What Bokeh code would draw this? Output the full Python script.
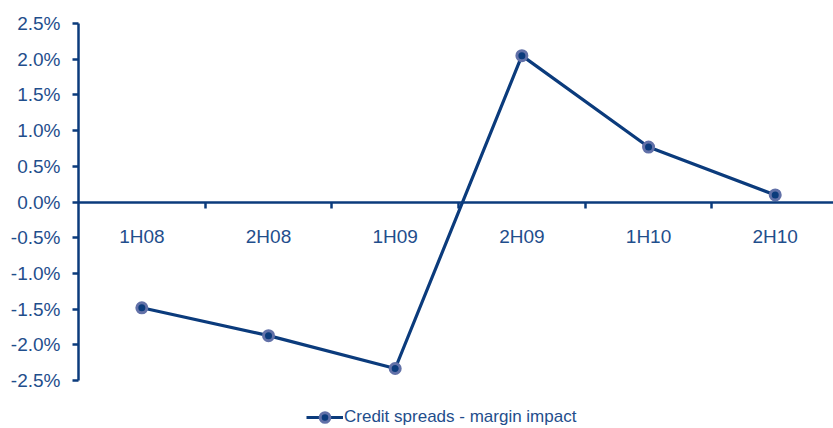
from bokeh.plotting import figure
from bokeh.models import (Range1d, LinearAxis, FixedTicker, PrintfTickFormatter,
                          Legend, LegendItem, ColumnDataSource)
from bokeh.embed import file_html
from bokeh.resources import INLINE

categories = ["1H08", "2H08", "1H09", "2H09", "1H10", "2H10"]
values = [-1.48, -1.87, -2.33, 2.05, 0.77, 0.10]
y_ticks = [-2.5, -2.0, -1.5, -1.0, -0.5, 0.0, 0.5, 1.0, 1.5, 2.0, 2.5]
series_name = "Credit spreads - margin impact"

NAVY = "#0b3b7c"
TEXT = "#1f4e8c"
MARK = "#6271a8"
FONT = "Liberation Sans"

xs = [i + 0.5 for i in range(len(categories))]
src = ColumnDataSource(dict(x=xs, y=values))

p = figure(width=833, height=428, output_backend="svg", toolbar_location=None,
           x_range=Range1d(0, 5.96), y_range=Range1d(-3.17, 2.5),
           x_axis_location=None, y_axis_location=None,
           min_border_top=23, min_border_left=78, min_border_right=0,
           min_border_bottom=0, outline_line_color=None)
p.grid.visible = False

yax = LinearAxis(ticker=FixedTicker(ticks=y_ticks),
                 formatter=PrintfTickFormatter(format="%.1f%%"),
                 bounds=(-2.5, 2.5))
yax.axis_line_color = NAVY
yax.axis_line_width = 2.5
yax.major_tick_line_color = NAVY
yax.major_tick_line_width = 2.5
yax.major_tick_out = 6
yax.major_tick_in = 0
yax.minor_tick_line_color = None
yax.major_label_text_font = FONT
yax.major_label_text_font_size = "19px"
yax.major_label_text_color = TEXT
yax.major_label_standoff = 12
p.add_layout(yax, "left")

xax = LinearAxis(ticker=FixedTicker(ticks=xs, minor_ticks=list(range(1, len(categories)))),
                 major_label_overrides={x: c for x, c in zip(xs, categories)},
                 fixed_location=0)
xax.axis_line_color = NAVY
xax.axis_line_width = 2.5
xax.major_tick_line_color = None
xax.minor_tick_line_color = NAVY
xax.minor_tick_line_width = 2.5
xax.minor_tick_out = 6
xax.minor_tick_in = 0
xax.major_label_text_font = FONT
xax.major_label_text_font_size = "19px"
xax.major_label_text_color = TEXT
xax.major_label_standoff = 18
p.add_layout(xax, "below")

ln = p.line("x", "y", source=src, line_color=NAVY, line_width=3.2)
mk = p.scatter("x", "y", source=src, size=10, fill_color=NAVY,
               line_color=MARK, line_width=3)

legend = Legend(items=[LegendItem(label=series_name, renderers=[ln, mk])],
                location=(228, -1), orientation="horizontal",
                border_line_color=None, background_fill_alpha=0,
                label_text_font=FONT, label_text_font_size="17px",
                label_text_color=TEXT, glyph_width=37, glyph_height=24,
                label_height=16, label_standoff=1,
                margin=0, padding=0)
p.add_layout(legend, "center")

open("out.html", "w").write(file_html(p, INLINE))
